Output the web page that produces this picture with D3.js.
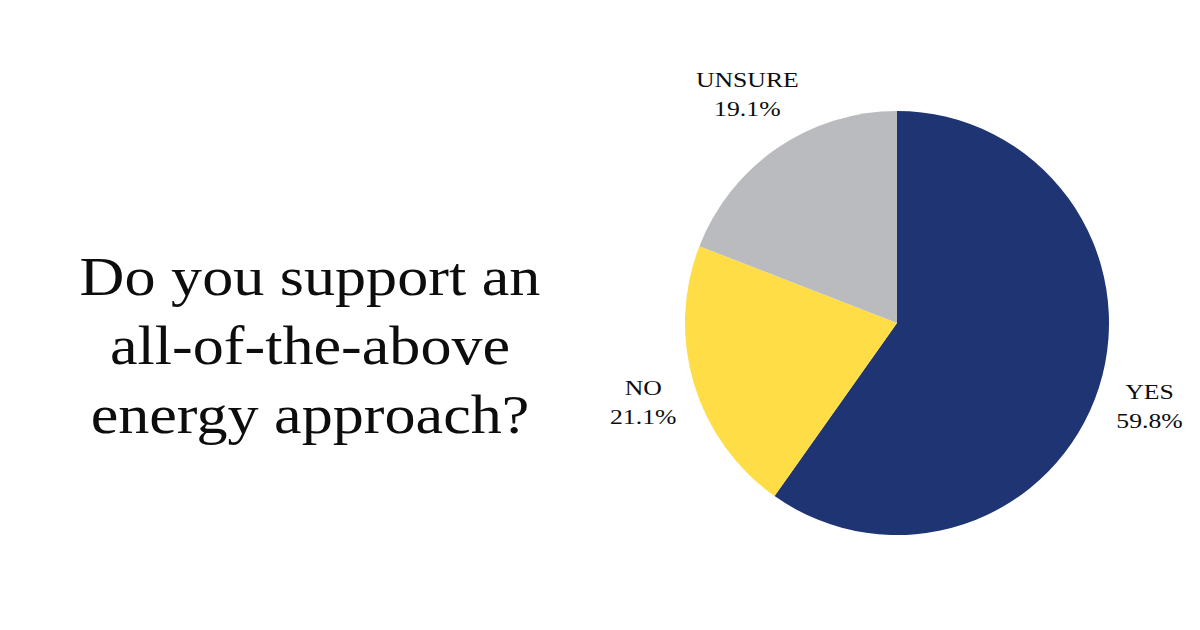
<!DOCTYPE html>
<html>
<head>
<meta charset="utf-8">
<script src="https://cdn.jsdelivr.net/npm/d3@7"></script>
<style>
  body { margin: 0; background: #fff; }
  text { font-family: "Liberation Serif", "DejaVu Serif", serif; fill: #0d0d0d; }
</style>
</head>
<body>
<svg width="1200" height="630"></svg>
<script>
// answers, clockwise from 12 o'clock
var labels = ["YES", "NO", "UNSURE"];
var values = [59.8, 21.1, 19.1];
var colors = ["#1f3573", "#fedd47", "#babbbf"];
var titleLines = ["Do you support an", "all-of-the-above", "energy approach?"];

var svg = d3.select("svg");

var cx = 897, cy = 323, radius = 212, labelRadius = 265;

// title (widened a little, the original face is broader than Times)
var title = svg.append("g")
    .attr("transform", "translate(310,0) scale(1.13,1)")
    .append("text")
    .attr("text-anchor", "middle")
    .attr("font-size", 55);
title.selectAll("tspan")
    .data(titleLines)
    .enter().append("tspan")
    .attr("x", 0)
    .attr("y", function(d, i) { return 295 + i * 69; })
    .text(function(d) { return d; });

var pie = d3.pie().sort(null).value(function(d) { return d; });
var arcs = pie(values);

var arc = d3.arc().innerRadius(0).outerRadius(radius);
var labelArc = d3.arc().innerRadius(labelRadius).outerRadius(labelRadius);

var g = svg.append("g").attr("transform", "translate(" + cx + "," + cy + ")");

g.selectAll("path")
    .data(arcs)
    .enter().append("path")
    .attr("d", arc)
    .attr("fill", function(d, i) { return colors[i]; });

var lab = g.selectAll(".lab")
    .data(arcs)
    .enter().append("text")
    .attr("class", "lab")
    .attr("text-anchor", "middle")
    .attr("font-size", 22)
    .attr("transform", function(d) {
        var c = labelArc.centroid(d);
        // labels above the pie sit with their lower line near the anchor
        if (c[1] < -radius * 0.6) c[1] -= 13;
        return "translate(" + c[0] + "," + c[1] + ") scale(1.17,1)";
    });

lab.append("tspan")
    .attr("x", 0)
    .attr("y", -4)
    .text(function(d, i) { return labels[i]; });
lab.append("tspan")
    .attr("x", 0)
    .attr("y", 25)
    .text(function(d) { return d.value.toFixed(1) + "%"; });
</script>
</body>
</html>
